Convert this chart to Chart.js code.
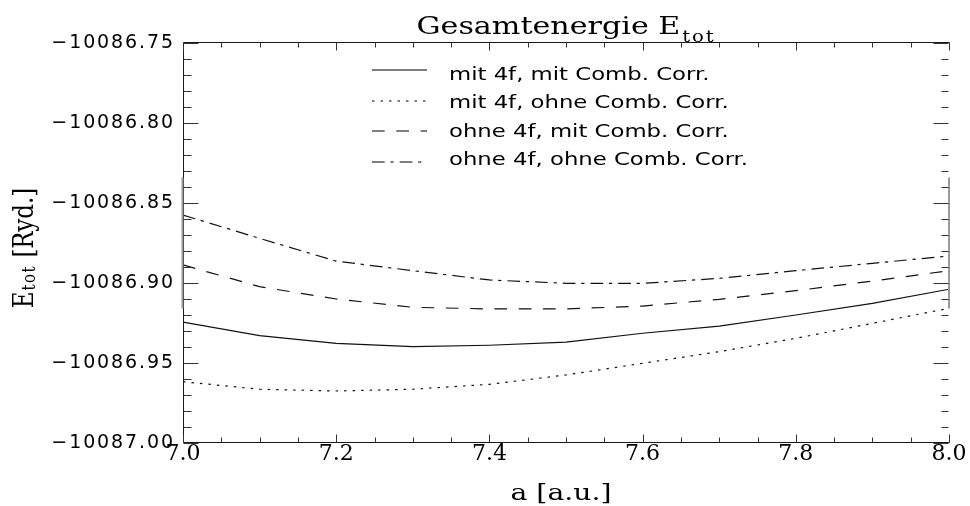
<!DOCTYPE html>
<html>
<head>
<meta charset="utf-8">
<title>Gesamtenergie E_tot</title>
<script src="https://cdn.jsdelivr.net/npm/chart.js@4.4.1/dist/chart.umd.min.js"></script>
<style>
    html, body { margin: 0; padding: 0; background: #fff; }
    #wrap { position: relative; width: 970px; height: 506px; }
</style>
</head>
<body>
<div id="wrap"><canvas id="chart"></canvas></div>
<script>
/* ============================================================
   Gesamtenergie E_tot vs. lattice constant a (IDL-style plot)
   ============================================================ */

// lattice constant a [a.u.]
var aValues = [7.0, 7.1, 7.2, 7.3, 7.4, 7.5, 7.6, 7.7, 7.8, 7.9, 8.0];

// total energies [Ryd.]
var mit4fMitCorr = [-10086.9244, -10086.9329, -10086.9377, -10086.9398, -10086.9389, -10086.9370,
                    -10086.9314, -10086.9269, -10086.9200, -10086.9127, -10086.9039];
var mit4fOhneCorr = [-10086.9617, -10086.9664, -10086.9675, -10086.9664, -10086.9633, -10086.9575,
                     -10086.9502, -10086.9429, -10086.9346, -10086.9252, -10086.9158];
var ohne4fMitCorr = [-10086.8887, -10086.9023, -10086.9100, -10086.9152, -10086.9162, -10086.9162,
                     -10086.9144, -10086.9102, -10086.9048, -10086.8988, -10086.8923];
var ohne4fOhneCorr = [-10086.8575, -10086.8721, -10086.8863, -10086.8923, -10086.8981, -10086.9002,
                      -10086.9002, -10086.8971, -10086.8923, -10086.8877, -10086.8831];

var seriesLabels = ['mit 4f, mit Comb. Corr.', 'mit 4f, ohne Comb. Corr.',
                    'ohne 4f, mit Comb. Corr.', 'ohne 4f, ohne Comb. Corr.'];

// axis ranges and tick steps
var xMin = 7.0, xMax = 8.0, xMajorStep = 0.2, xMinorStep = 0.05;
var yMin = -10087.00, yMax = -10086.75, yMajorStep = 0.05, yMinorStep = 0.01;

var titleText = 'Gesamtenergie E';
var titleSub = 'tot';
var yTitleMain = 'E';
var yTitleSub = 'tot';
var yTitleRest = ' [Ryd.]';
var xTitleText = 'a [a.u.]';

// glyphs in the original are drawn wider than the installed fonts
var STRETCH = 1.23;

function toPoints(values) {
    var pts = [];
    for (var i = 0; i < aValues.length; i++) pts.push({ x: aValues[i], y: values[i] });
    return pts;
}

function line(ctx, x0, y0, x1, y1) {
    ctx.beginPath();
    ctx.moveTo(x0, y0);
    ctx.lineTo(x1, y1);
    ctx.stroke();
}

// stretched text, anchored at (x, y)
function stretchedText(ctx, text, x, y, font, spacing) {
    ctx.save();
    ctx.font = font;
    ctx.letterSpacing = spacing || '0px';
    ctx.translate(x, y);
    ctx.scale(STRETCH, 1);
    ctx.fillText(text, 0, 0);
    var w = ctx.measureText(text).width * STRETCH;
    ctx.restore();
    return w;
}

function textWidth(ctx, text, font, spacing) {
    ctx.save();
    ctx.font = font;
    ctx.letterSpacing = spacing || '0px';
    var w = ctx.measureText(text).width * STRETCH;
    ctx.restore();
    return w;
}

var framePlugin = {
    id: 'idlFrame',
    beforeDraw: function (chart) {
        // wide spacing for the y tick labels
        chart.ctx.letterSpacing = '1.9px';
    },
    beforeDatasetsDraw: function (chart) {
        chart.ctx.letterSpacing = '0px';
    },
    afterDraw: function (chart) {
        var ctx = chart.ctx;
        var area = chart.chartArea;
        var xs = chart.scales.x;
        var ys = chart.scales.y;
        var L = Math.round(area.left) + 0.5;
        var R = Math.round(area.right) - 0.5;
        var T = Math.round(area.top) - 0.5;
        var B = Math.round(area.bottom) - 0.5;
        var i, p, major;

        ctx.save();
        ctx.letterSpacing = '0px';
        ctx.setLineDash([]);
        ctx.lineWidth = 1;
        ctx.strokeStyle = '#1a1a1a';

        // frame: left, bottom, top (right side only partly visible)
        line(ctx, L, T, L, B);
        line(ctx, L, B, R + 1, B);
        line(ctx, L, T, R + 1, T);

        // grey patches on both vertical axes
        ctx.strokeStyle = '#9a9a9a';
        ctx.lineWidth = 2;
        var g0 = ys.getPixelForValue(-10086.834);
        var g1 = ys.getPixelForValue(-10086.916);
        line(ctx, L - 1, g0, L - 1, g1);
        line(ctx, R + 0.5, g0, R + 0.5, g1);

        // y ticks, both sides, pointing inward
        ctx.lineWidth = 1;
        ctx.strokeStyle = '#333';
        var nY = Math.round((yMax - yMin) / yMinorStep);
        var perY = Math.round(yMajorStep / yMinorStep);
        for (i = 0; i <= nY; i++) {
            p = Math.round(ys.getPixelForValue(yMin + i * yMinorStep)) + 0.5;
            major = i % perY === 0;
            line(ctx, L, p, L + (major ? 15 : 8), p);
            line(ctx, R, p, R - (major ? 15 : 7), p);
        }

        // x ticks, bottom and top
        var nX = Math.round((xMax - xMin) / xMinorStep);
        var perX = Math.round(xMajorStep / xMinorStep);
        for (i = 0; i <= nX; i++) {
            p = Math.round(xs.getPixelForValue(xMin + i * xMinorStep)) + 0.5;
            major = i % perX === 0;
            line(ctx, p, B, p, B - (major ? 8 : 5));
            line(ctx, p, T, p, T + (major ? 8 : 5));
        }

        ctx.fillStyle = '#000';
        ctx.textBaseline = 'alphabetic';
        ctx.textAlign = 'left';

        // title with subscript, centred over the plot
        var cx = (area.left + area.right) / 2;
        var tFont = '24.5px "DejaVu Serif"';
        var sFont = '16px "DejaVu Serif"';
        var w1 = textWidth(ctx, titleText, tFont, '0px');
        var w2 = textWidth(ctx, titleSub, sFont, '1.5px');
        var x0 = cx - (w1 + 2 + w2) / 2;
        stretchedText(ctx, titleText, x0, 33.5, tFont, '0px');
        stretchedText(ctx, titleSub, x0 + w1 + 2, 41.5, sFont, '1.5px');

        // x axis title
        var xFont = '23px "DejaVu Serif"';
        var xw = textWidth(ctx, xTitleText, xFont, '0px');
        stretchedText(ctx, xTitleText, cx - 5 - xw / 2, 500, xFont, '0px');

        // y axis title, rotated, glyph height stretched
        var yFont = '23px "DejaVu Serif"';
        var ysFont = '15px "DejaVu Serif"';
        ctx.save();
        ctx.font = yFont;
        var e1 = ctx.measureText(yTitleMain).width;
        var e3 = ctx.measureText(yTitleRest).width;
        ctx.font = ysFont;
        ctx.letterSpacing = '1.5px';
        var e2 = ctx.measureText(yTitleSub).width;
        ctx.letterSpacing = '0px';
        var total = e1 + 1 + e2 + e3;
        var cy = (area.top + area.bottom) / 2 + 5;
        ctx.translate(33, cy);
        ctx.rotate(-Math.PI / 2);
        ctx.scale(1, STRETCH);
        ctx.font = yFont;
        ctx.fillText(yTitleMain, -total / 2, 0);
        ctx.font = ysFont;
        ctx.letterSpacing = '1.5px';
        ctx.fillText(yTitleSub, -total / 2 + e1 + 1, 2);
        ctx.letterSpacing = '0px';
        ctx.font = yFont;
        ctx.fillText(yTitleRest, -total / 2 + e1 + 1 + e2, 0);
        ctx.restore();

        // legend inside the plot: line sample + label
        var lFont = '18.5px "DejaVu Sans"';
        var sets = chart.data.datasets;
        for (i = 0; i < sets.length; i++) {
            var ly = Math.round(70 + i * 30.5);
            ctx.save();
            ctx.strokeStyle = '#555';
            ctx.lineWidth = 1.4;
            ctx.setLineDash(sets[i].borderDash || []);
            line(ctx, 372, ly, 427, ly);
            ctx.restore();
            ctx.save();
            ctx.textBaseline = 'middle';
            stretchedText(ctx, sets[i].label, 449, 75 + i * 28.5, lFont, '0px');
            ctx.restore();
        }

        ctx.restore();
    }
};

function makeDataset(label, values, dash) {
    return {
        label: label,
        data: toPoints(values),
        borderColor: '#111',
        borderWidth: 1.2,
        borderDash: dash,
        pointRadius: 0,
        fill: false,
        tension: 0
    };
}

var chart = new Chart(document.getElementById('chart'), {
    type: 'line',
    data: {
        datasets: [
            makeDataset(seriesLabels[0], mit4fMitCorr, []),
            makeDataset(seriesLabels[1], mit4fOhneCorr, [2.5, 6]),
            makeDataset(seriesLabels[2], ohne4fMitCorr, [12.7, 11.6]),
            makeDataset(seriesLabels[3], ohne4fOhneCorr, [12.7, 5.7, 3.3, 6])
        ]
    },
    options: {
        responsive: true,
        maintainAspectRatio: false,
        animation: false,
        events: [],
        layout: { padding: { left: 0, right: 21, top: 43, bottom: 0 } },
        plugins: {
            legend: { display: false },
            title: { display: false },
            tooltip: { enabled: false }
        },
        scales: {
            x: {
                type: 'linear',
                min: xMin,
                max: xMax,
                afterFit: function (s) { s.height = 63; },
                grid: { display: false, drawTicks: false, z: 1 },
                border: { display: false },
                ticks: {
                    z: 1,
                    stepSize: xMajorStep,
                    autoSkip: false,
                    maxRotation: 0,
                    padding: 0,
                    color: '#000',
                    font: { family: 'DejaVu Serif', size: 22, lineHeight: 1 },
                    callback: function (v) { return Number(v).toFixed(1); }
                }
            },
            y: {
                type: 'linear',
                min: yMin,
                max: yMax,
                afterFit: function (s) { s.width = 183; },
                grid: { display: false, drawTicks: false },
                border: { display: false },
                ticks: {
                    stepSize: yMajorStep,
                    autoSkip: false,
                    padding: 8,
                    color: '#000',
                    font: { family: 'DejaVu Sans', size: 19 },
                    callback: function (v) { return '\u2212' + Math.abs(v).toFixed(2); }
                }
            }
        }
    },
    plugins: [framePlugin]
});
</script>
</body>
</html>
